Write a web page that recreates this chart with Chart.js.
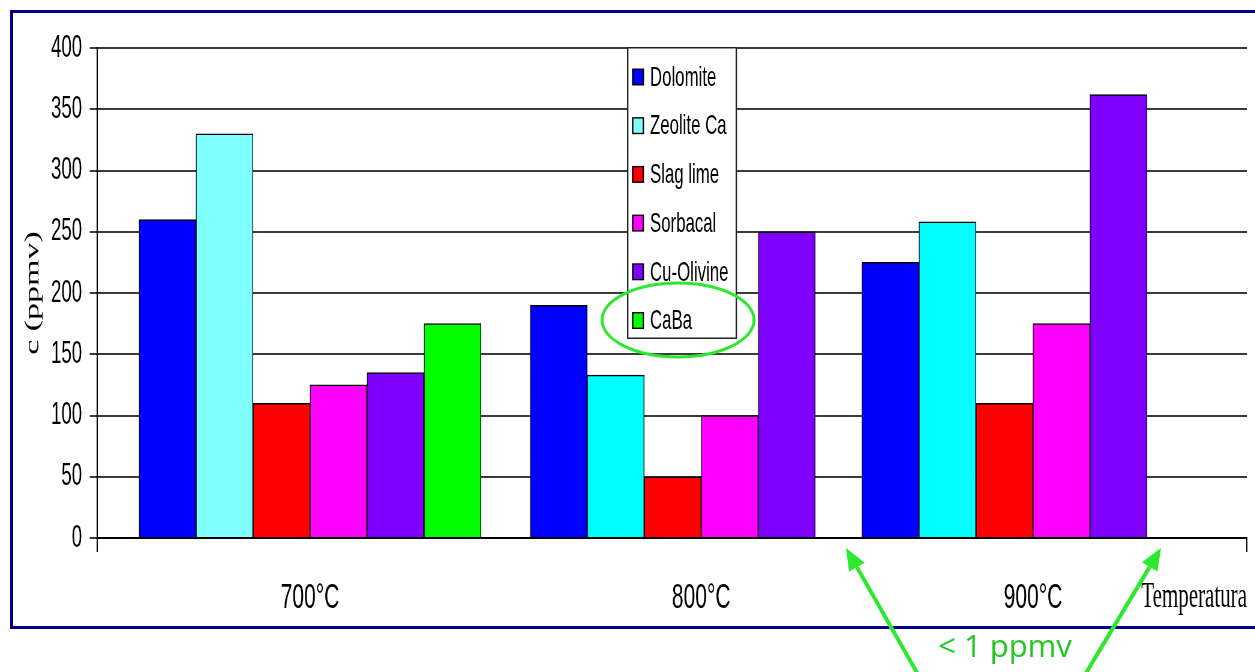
<!DOCTYPE html>
<html>
<head>
<meta charset="utf-8">
<title>Concentration by sorbent and temperature</title>
<script src="https://cdn.jsdelivr.net/npm/chart.js@4.4.1/dist/chart.umd.min.js"></script>
<style>
  html, body { margin: 0; padding: 0; background: #fff; width: 1255px; height: 672px; overflow: hidden; }
  #frame {
    position: absolute; left: 10px; top: 10px; width: 1300px; height: 619px;
    box-sizing: border-box; border: 3px solid #00008b; border-right: none;
  }
  /* the chart is drawn wide and squeezed horizontally, giving the narrow lettering */
  #chart { position: absolute; left: 0; top: 0; transform: scaleX(0.6); transform-origin: 0 0; }
</style>
</head>
<body>
<div id="frame"></div>
<canvas id="chart" width="2092" height="672"></canvas>
<script>
// ---- data (ppmv) ----
const temperatures = ['700°C', '800°C', '900°C'];
const sorbents = ['Dolomite', 'Zeolite Ca', 'Slag lime', 'Sorbacal', 'Cu-Olivine', 'CaBa'];
const dolomite  = [260, 190, 225];
const zeoliteCa = [330, 133, 258];
const slagLime  = [110,  50, 110];
const sorbacal  = [125, 100, 175];
const cuOlivine = [135, 250, 362];
// CaBa stays below 1 ppmv at 800 and 900 °C: no bar there
const caBa      = [175, null, null];
const yTickValues = [0, 50, 100, 150, 200, 250, 300, 350, 400];

// ---- layout and styling ----
const SQUEEZE = 0.6;              // horizontal scale applied to the canvas
const W = 2092, H = 672;
const X_SPAN = 20.175;            // x axis length, in bar widths
const GROUP_CENTRES = [3.737, 10.60, 16.42];
const seriesValues = [dolomite, zeoliteCa, slagLime, sorbacal, cuOlivine, caBa];
const seriesColours = ['#0000ff', ['#80ffff', '#00ffff', '#00ffff'], '#ff0000', '#ff00ff', '#8000ff', '#00ff00'];
const mid = (sorbents.length - 1) / 2;

const datasets = sorbents.map((name, k) => {
  const points = [];
  seriesValues[k].forEach((v, i) => {
    if (v !== null) points.push({ x: GROUP_CENTRES[i] + k - mid, y: v, cat: i });
  });
  const col = seriesColours[k];
  return {
    label: name,
    data: points,
    swatch: Array.isArray(col) ? col[0] : col,
    backgroundColor: Array.isArray(col) ? (c => col[c.raw ? c.raw.cat : 0]) : col,
    borderColor: '#000',
    borderWidth: { top: 1.5, bottom: 0, left: 1.4, right: 1.4 },
    borderSkipped: 'start',
    grouped: false,
    barPercentage: 1,
    categoryPercentage: 1
  };
});

// boxed key with white background, placed inside the plot
const sorbentKey = {
  id: 'sorbentKey',
  afterDatasetsDraw(chart) {
    const { ctx } = chart;
    const left = 627 / SQUEEZE, right = 737 / SQUEEZE, top = 47, bottom = 339;
    const vx = 1.4 / SQUEEZE;
    ctx.save();
    ctx.fillStyle = '#fff';
    ctx.fillRect(left, top, right - left, bottom - top);
    ctx.fillStyle = '#222';
    ctx.fillRect(left, top, right - left, 1.5);
    ctx.fillRect(left, bottom - 1.5, right - left, 1.5);
    ctx.fillRect(left, top, vx, bottom - top);
    ctx.fillRect(right - vx, top, vx, bottom - top);
    ctx.font = '28px "Liberation Sans", Arial, sans-serif';
    ctx.textBaseline = 'middle';
    ctx.textAlign = 'left';
    chart.data.datasets.forEach((ds, k) => {
      const cy = 77 + k * 48.7;
      const bx = 632 / SQUEEZE, bw = 12 / SQUEEZE, bh = 17;
      ctx.fillStyle = '#000';
      ctx.fillRect(bx, cy - bh / 2, bw, bh);
      ctx.fillStyle = ds.swatch;
      ctx.fillRect(bx + vx, cy - bh / 2 + 1.4, bw - 2 * vx, bh - 2.8);
      ctx.fillStyle = '#000';
      ctx.fillText(ds.label, 650 / SQUEEZE, cy + 1);
    });
    ctx.restore();
  }
};

// green note: ellipse round the CaBa key entry and arrows to the empty CaBa slots
const lowNote = {
  id: 'lowNote',
  afterDraw(chart) {
    const { ctx } = chart;
    const green = '#2ee82e';
    ctx.save();
    ctx.scale(1 / SQUEEZE, 1);           // draw in undistorted page units
    ctx.strokeStyle = green;
    ctx.lineWidth = 3;
    ctx.beginPath();
    ctx.ellipse(678, 320, 76, 37, 0, 0, Math.PI * 2);
    ctx.stroke();

    const arrow = (x0, y0, x1, y1) => {
      const a = Math.atan2(y1 - y0, x1 - x0);
      const len = 22, half = 9;
      const bxp = x1 - len * Math.cos(a), byp = y1 - len * Math.sin(a);
      ctx.strokeStyle = green;
      ctx.fillStyle = green;
      ctx.lineWidth = 4;
      ctx.beginPath();
      ctx.moveTo(x0, y0);
      ctx.lineTo(bxp, byp);
      ctx.stroke();
      ctx.beginPath();
      ctx.moveTo(x1, y1);
      ctx.lineTo(bxp + half * Math.sin(a), byp - half * Math.cos(a));
      ctx.lineTo(bxp - half * Math.sin(a), byp + half * Math.cos(a));
      ctx.closePath();
      ctx.fill();
    };
    arrow(920, 678, 846, 548);
    arrow(1083, 678, 1161, 548);

    ctx.fillStyle = '#22c822';
    ctx.font = '31px "Open Sans", "Noto Sans", sans-serif';
    ctx.textAlign = 'center';
    ctx.textBaseline = 'alphabetic';
    ctx.fillText('< 1 ppmv', 1005, 657);
    ctx.restore();
  }
};

new Chart(document.getElementById('chart'), {
  type: 'bar',
  data: { datasets },
  options: {
    responsive: false,
    devicePixelRatio: 1,
    animation: false,
    layout: { padding: { left: 0, top: 48, right: W - 2078.3, bottom: 0 } },
    plugins: { legend: { display: false }, tooltip: { enabled: false } },
    scales: {
      x: {
        type: 'linear',
        min: 0,
        max: X_SPAN,
        bounds: 'data',
        offset: false,
        afterBuildTicks: s => { s.ticks = [0, ...GROUP_CENTRES, X_SPAN].map(v => ({ value: v })); },
        afterFit: s => { s.height = 134; },
        ticks: {
          autoSkip: false,
          maxRotation: 0,
          minRotation: 0,
          padding: 10,
          color: '#000',
          font: { family: '"Liberation Sans", Arial, sans-serif', size: 35, lineHeight: 2.06 },
          callback: (v, i) => (i > 0 && i <= temperatures.length) ? temperatures[i - 1] : ''
        },
        grid: {
          offset: false,
          drawOnChartArea: false,
          drawTicks: true,
          tickLength: 14,
          lineWidth: 2,
          color: c => (c.index === 0 || c.index === temperatures.length + 1) ? '#000' : 'rgba(0,0,0,0)'
        },
        border: { display: true, color: '#000', width: 2 },
        title: {
          display: true,
          text: 'Temperatura',
          align: 'end',
          color: '#000',
          font: { family: '"Liberation Serif", "Times New Roman", serif', size: 35 },
          padding: { top: 0, bottom: 53 }
        }
      },
      y: {
        min: 0,
        max: 400,
        afterBuildTicks: s => { s.ticks = yTickValues.map(v => ({ value: v })); },
        afterFit: s => { s.width = 161.67; },
        ticks: {
          padding: 13,
          color: '#000',
          font: { family: '"Liberation Sans", Arial, sans-serif', size: 31 }
        },
        grid: { color: '#3a3a3a', lineWidth: 2, tickLength: 12, drawTicks: true },
        border: { color: '#000', width: 2 },
        title: {
          display: true,
          text: 'c (ppmv)',
          color: '#000',
          font: { family: '"Liberation Serif", "Times New Roman", serif', size: 34 },
          padding: { top: 34.6, bottom: 0 }
        }
      }
    }
  },
  plugins: [sorbentKey, lowNote]
});
</script>
</body>
</html>
